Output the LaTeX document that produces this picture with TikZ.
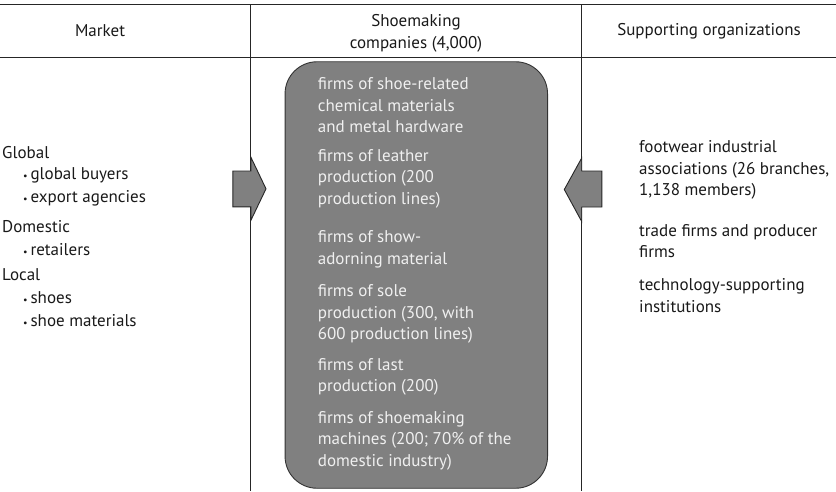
\documentclass[tikz,border=0pt]{standalone}
\usepackage{fontspec}
\setmainfont{PT Sans}
\begin{document}
\begin{tikzpicture}[x=1pt,y=-1pt,
  txt/.style={anchor=west,inner sep=0pt,font=\fontsize{17}{21.7}\selectfont,text=black!90,align=left},
  boxtxt/.style={txt,text=white!94!black},
  hdr/.style={inner sep=0pt,font=\fontsize{17}{21.7}\selectfont,text=black!90,align=center},
  rule/.style={line width=1.3pt,black!85},
  vrule/.style={line width=1pt,black!85},
  fat/.style={fill=black!50,draw=black!85,line width=0.9pt,line join=miter}]
\useasboundingbox (0,0) rectangle (836,491);
% rules
\coordinate (tl) at (0,4.5); \coordinate (tr) at (836,4.5);
\coordinate (hl) at (0,57.3); \coordinate (hr) at (836,57.3);
\coordinate (v1t) at (250.3,4.5); \coordinate (v1b) at (250.3,491);
\coordinate (v2t) at (581.5,4.5); \coordinate (v2b) at (581.5,491);
\draw[rule] (tl) -- (tr);
\draw[vrule] (hl) -- (hr);
\draw[vrule] (v1t) -- (v1b);
\draw[vrule] (v2t) -- (v2b);
% headers
\node[hdr] (hmarket) at (100,31) {Market};
\node[hdr] (hshoe) at (416,33.5) {Shoemaking\\companies (4,000)};
\node[hdr] (hsupp) at (709,31) {Supporting organizations};
% central box
\node[fill=black!50,draw=black!80,line width=0.9pt,rounded corners=32pt,
      minimum width=262.5pt,minimum height=426.5pt,inner sep=0pt] (box) at (416.3,275) {};
% box texts
\node[boxtxt] (b1) at (317.7,105.3) {firms of shoe-related\\chemical materials\\and metal hardware};
\node[boxtxt] (b2) at (317.7,178.6) {firms of leather\\production (200\\production lines)};
\node[boxtxt] (b3) at (317.7,249) {firms of show-\\adorning material};
\node[boxtxt] (b4) at (317.7,314) {firms of sole\\production (300, with\\600 production lines)};
\node[boxtxt] (b5) at (317.7,377) {firms of last\\production (200)};
\node[boxtxt] (b6) at (317.7,440.6) {firms of shoemaking\\machines (200; 70\% of the\\domestic industry)};
% left arrow
\draw[fat] (232.8,171) -- (250.8,171) -- (250.8,157) -- (266,188.8) -- (250.8,220.5) -- (250.8,206.8) -- (232.8,206.8) -- cycle;
% right arrow
\draw[fat] (601.8,171) -- (581.7,171) -- (581.7,158) -- (564.3,189.5) -- (581.7,221.5) -- (581.7,207) -- (601.8,207) -- cycle;
% left texts
\node[txt] (g) at (2,153) {Global};
\node[txt] (g1) at (23,175.5) {{\fontsize{10}{10}\selectfont\textbullet}\,global buyers};
\node[txt] (g2) at (23,198) {{\fontsize{10}{10}\selectfont\textbullet}\,export agencies};
\node[txt] (d) at (2,227) {Domestic};
\node[txt] (d1) at (23,249.5) {{\fontsize{10}{10}\selectfont\textbullet}\,retailers};
\node[txt] (l) at (2,275) {Local};
\node[txt] (l1) at (23,298) {{\fontsize{10}{10}\selectfont\textbullet}\,shoes};
\node[txt] (l2) at (23,320.5) {{\fontsize{10}{10}\selectfont\textbullet}\,shoe materials};
% right texts
\node[txt] (r1) at (639,170) {footwear industrial\\associations (26 branches,\\1,138 members)};
\node[txt] (r2) at (639,241) {trade firms and producer\\firms};
\node[txt] (r3) at (639,295.5) {technology-supporting\\institutions};
\end{tikzpicture}
\end{document}
